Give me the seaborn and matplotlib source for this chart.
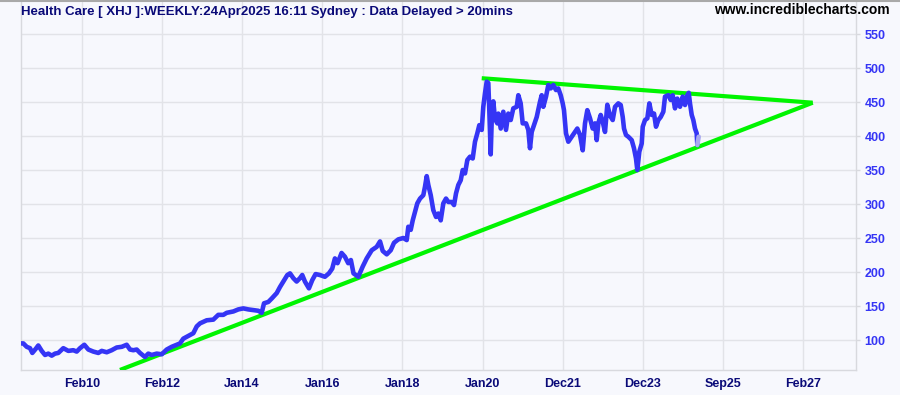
import matplotlib
matplotlib.use("Agg")
import matplotlib.pyplot as plt
import seaborn as sns
import pandas as pd

# ---- data (x = chart position in years, value = index level) ----
price_x = [
    2008.536, 2008.643, 2008.728, 2008.810, 2008.868, 2008.953, 2009.017, 2009.102, 2009.185, 2009.267,
    2009.352, 2009.434, 2009.516, 2009.641, 2009.766, 2009.890, 2009.975, 2010.058, 2010.165, 2010.265,
    2010.389, 2010.514, 2010.599, 2010.724, 2010.848, 2010.973, 2011.098, 2011.222, 2011.305, 2011.387,
    2011.472, 2011.554, 2011.679, 2011.761, 2011.846, 2011.971, 2012.096, 2012.220, 2012.345, 2012.470,
    2012.552, 2012.634, 2012.759, 2012.884, 2012.969, 2013.051, 2013.218, 2013.383, 2013.507, 2013.632,
    2013.717, 2013.882, 2014.006, 2014.131, 2014.256, 2014.380, 2014.505, 2014.590, 2014.647, 2014.755,
    2014.839, 2014.964, 2015.046, 2015.129, 2015.229, 2015.296, 2015.378, 2015.461, 2015.544, 2015.601,
    2015.668, 2015.768, 2015.850, 2015.934, 2016.041, 2016.166, 2016.266, 2016.349, 2016.416, 2016.482,
    2016.582, 2016.665, 2016.748, 2016.814, 2016.880, 2017.000, 2017.109, 2017.209, 2017.334, 2017.458,
    2017.541, 2017.608, 2017.708, 2017.808, 2017.890, 2017.997, 2018.122, 2018.207, 2018.247, 2018.307,
    2018.357, 2018.414, 2018.471, 2018.539, 2018.621, 2018.663, 2018.706, 2018.746, 2018.806, 2018.870,
    2018.938, 2018.995, 2019.055, 2019.120, 2019.187, 2019.245, 2019.329, 2019.387, 2019.437, 2019.494,
    2019.554, 2019.604, 2019.661, 2019.719, 2019.786, 2019.853, 2019.910, 2019.968, 2020.018, 2020.078,
    2020.117, 2020.160, 2020.202, 2020.242, 2020.267, 2020.302, 2020.335, 2020.367, 2020.409, 2020.467,
    2020.492, 2020.552, 2020.616, 2020.684, 2020.741, 2020.801, 2020.866, 2020.951, 2020.991, 2021.050,
    2021.100, 2021.183, 2021.240, 2021.282, 2021.325, 2021.382, 2021.450, 2021.532, 2021.574, 2021.614,
    2021.682, 2021.739, 2021.799, 2021.864, 2021.931, 2021.988, 2022.048, 2022.098, 2022.130, 2022.180,
    2022.238, 2022.323, 2022.405, 2022.462, 2022.530, 2022.597, 2022.654, 2022.712, 2022.779, 2022.846,
    2022.904, 2022.946, 2022.986, 2023.046, 2023.096, 2023.153, 2023.211, 2023.278, 2023.345, 2023.403,
    2023.485, 2023.545, 2023.595, 2023.627, 2023.677, 2023.734, 2023.819, 2023.876, 2023.926, 2023.959,
    2024.009, 2024.069, 2024.094, 2024.151, 2024.209, 2024.259, 2024.318, 2024.376, 2024.425, 2024.483,
    2024.543, 2024.608, 2024.650, 2024.732, 2024.792, 2024.842, 2024.899, 2024.957, 2025.024, 2025.091,
    2025.149, 2025.206, 2025.241, 2025.273, 2025.316, 2025.356, 2025.398, 2025.440, 2025.456,
]
price_y = [
    95, 95, 90, 88, 81, 87, 92, 84, 78, 80,
    77, 80, 81, 88, 84, 85, 83, 88, 93, 86,
    83, 81, 84, 82, 85, 89, 90, 93, 86, 85,
    86, 81, 75, 80, 78, 80, 79, 86, 90, 93,
    95, 102, 106, 110, 120, 124.5, 129, 130, 137, 137,
    140, 142, 145, 146.5, 145, 144, 143, 140, 154, 156,
    161, 169, 178, 186, 195.6, 198, 191, 186, 191, 195.6,
    186, 176, 188, 197, 195.6, 193, 198, 205, 220, 213,
    228, 222.5, 213, 217.6, 198, 193, 208, 220, 232, 237,
    245, 231, 226, 232, 243, 248, 250, 247, 266.6, 262,
    276, 288.7, 301, 308, 313, 325.5, 341, 328, 313, 291,
    281, 286, 276, 301, 308, 303, 303, 298.5, 315.7, 328,
    335, 350, 345, 364.7, 369.6, 367, 391.6, 404, 416, 409,
    443, 463, 480, 478, 438, 373, 438, 451, 425, 418.6,
    433, 411, 435.7, 409, 433, 423.5, 440.7, 443, 460, 448,
    418.6, 418.6, 409, 382, 406, 416, 428, 450.5, 460, 443,
    458, 475, 470, 475, 467.6, 470, 460, 448, 438, 404,
    391.6, 399, 406, 411, 401.5, 379, 418.6, 438, 426, 411,
    418.6, 394, 418.6, 431, 421, 406, 446, 430, 423.5, 443,
    448, 445.6, 428, 411, 401.5, 399, 394, 382, 367, 350,
    377, 389, 413.7, 423.5, 426, 448, 431, 433, 413.7, 423.5,
    428, 435.7, 458, 460, 453, 460, 440.7, 455, 443, 458,
    445.6, 460, 463.6, 448, 431, 423.5, 411, 404, 386.8,
]
# current (partial) week
partial_x = [2025.456, 2025.490]
partial_y = [386.8, 399]

# trend lines (endpoints)
support_x = [2011.055, 2028.334]
support_y = [56, 449]
resist_x = [2020.078, 2028.334]
resist_y = [485, 449]

tick_pos = [2010.1, 2012.1, 2014.1, 2016.1, 2018.1, 2020.1, 2022.1, 2024.1, 2026.1, 2028.1]
tick_labels = ["Feb10", "Feb12", "Jan14", "Jan16", "Jan18", "Jan20", "Dec21", "Dec23", "Sep25", "Feb27"]
y_ticks = [100, 150, 200, 250, 300, 350, 400, 450, 500, 550]

title = "Health Care [ XHJ ]:WEEKLY:24Apr2025 16:11 Sydney : Data Delayed > 20mins"
site = "www.incrediblecharts.com"

# ---- styling ----
sns.set_style("white")
plt.rcParams["font.family"] = ["Liberation Sans", "DejaVu Sans"]

BG = "#F7F8FD"
GRID = "#E2E3E8"
BLUE = "#3535F5"
GREEN = "#00F400"
NAVY = "#0A0A78"

fig = plt.figure(figsize=(9.0, 3.95), dpi=100, facecolor=BG)
W, H = 900.0, 395.0
ax = fig.add_axes([20.7 / W, 25.0 / H, (856.0 - 20.7) / W, (393.0 - 25.0) / H])
ax.set_facecolor(BG)

price_df = pd.DataFrame({"x": price_x, "y": price_y})
part_df = pd.DataFrame({"x": partial_x, "y": partial_y})
sup_df = pd.DataFrame({"x": support_x, "y": support_y})
res_df = pd.DataFrame({"x": resist_x, "y": resist_y})

sns.lineplot(data=sup_df, x="x", y="y", ax=ax, color=GREEN, lw=3.0, sort=False,
             estimator=None, zorder=3, solid_capstyle="butt")
sns.lineplot(data=res_df, x="x", y="y", ax=ax, color=GREEN, lw=3.0, sort=False,
             estimator=None, zorder=3, solid_capstyle="butt")
sns.lineplot(data=price_df, x="x", y="y", ax=ax, color=BLUE, lw=3.3, sort=False,
             estimator=None, zorder=4)
sns.lineplot(data=part_df, x="x", y="y", ax=ax, color="#A8A8F0", lw=3.3, sort=False,
             estimator=None, zorder=4)

ax.set_xlim(2008.578, 2029.414)
ax.set_ylim(55.9, 597.1)
ax.set_xlabel("")
ax.set_ylabel("")

ax.set_xticks(tick_pos)
ax.set_xticklabels(tick_labels)
ax.set_yticks(y_ticks)
ax.yaxis.tick_right()
ax.grid(True, color=GRID, lw=1.0, zorder=0)
ax.set_axisbelow(True)

for side in ["left", "bottom", "right"]:
    ax.spines[side].set_color("#D8D9DE")
    ax.spines[side].set_linewidth(1.0)
ax.spines["top"].set_visible(False)

ax.tick_params(axis="x", direction="out", length=3, width=1, color="#D8D9DE",
               labelcolor=NAVY, labelsize=9, pad=3)
ax.tick_params(axis="y", direction="out", length=3, width=1, color="#D8D9DE",
               labelcolor="#3535F5", labelsize=9, pad=3, right=True, left=False)
for lab in ax.get_xticklabels() + ax.get_yticklabels():
    lab.set_fontweight("bold")

fig.text(20.7 / W, 1 - 14.5 / H, title, color=NAVY, fontsize=9.5, fontweight="bold",
         ha="left", va="baseline")
fig.text(890 / W, 1 - 14.5 / H, site, color="black", fontsize=10, fontweight="bold",
         ha="right", va="baseline")
fig.add_artist(plt.Line2D([0, 1], [1 - 0.5 / H, 1 - 0.5 / H], transform=fig.transFigure,
                          color="#A9A9A9", lw=1.5))

fig.savefig("out.png", dpi=100, facecolor=BG)
